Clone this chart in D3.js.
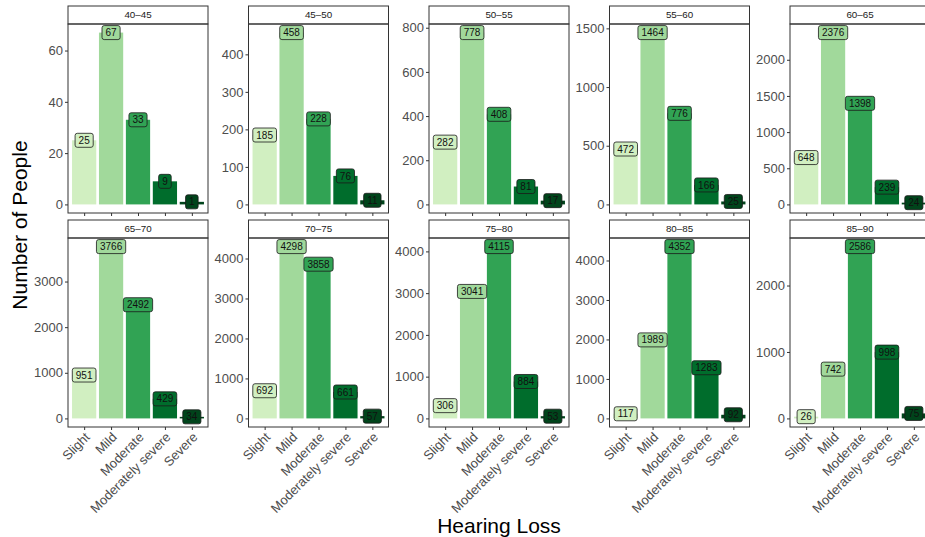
<!DOCTYPE html>
<html>
<head>
<meta charset="utf-8">
<script src="https://cdn.jsdelivr.net/npm/d3@7"></script>
<style>
  html, body { margin: 0; padding: 0; background: #fff; }
  svg { display: block; font-family: "Liberation Sans", Arial, Helvetica, sans-serif; }
</style>
</head>
<body>
<svg id="chart" width="925" height="537"></svg>
<script>
// ---------- data ----------
const categories = ["Slight", "Mild", "Moderate", "Moderately severe", "Severe"];
const categoryColors = ["#d1efc1", "#a1d99b", "#31a354", "#006d2c", "#00441b"];
const ageGroups = ["40–45", "45–50", "50–55", "55–60", "60–65", "65–70", "70–75", "75–80", "80–85", "85–90"];

const counts_40_45 = [25, 67, 33, 9, 1];
const counts_45_50 = [185, 458, 228, 76, 11];
const counts_50_55 = [282, 778, 408, 81, 17];
const counts_55_60 = [472, 1464, 776, 166, 25];
const counts_60_65 = [648, 2376, 1398, 239, 24];
const counts_65_70 = [951, 3766, 2492, 429, 34];
const counts_70_75 = [692, 4298, 3858, 661, 57];
const counts_75_80 = [306, 3041, 4115, 884, 53];
const counts_80_85 = [117, 1989, 4352, 1283, 92];
const counts_85_90 = [26, 742, 2586, 998, 75];

const ticks_40_45 = [0, 20, 40, 60];
const ticks_45_50 = [0, 100, 200, 300, 400];
const ticks_50_55 = [0, 200, 400, 600, 800];
const ticks_55_60 = [0, 500, 1000, 1500];
const ticks_60_65 = [0, 500, 1000, 1500, 2000];
const ticks_65_70 = [0, 1000, 2000, 3000];
const ticks_70_75 = [0, 1000, 2000, 3000, 4000];
const ticks_75_80 = [0, 1000, 2000, 3000, 4000];
const ticks_80_85 = [0, 1000, 2000, 3000, 4000];
const ticks_85_90 = [0, 1000, 2000];

const allCounts = [counts_40_45, counts_45_50, counts_50_55, counts_55_60, counts_60_65,
                   counts_65_70, counts_70_75, counts_75_80, counts_80_85, counts_85_90];
const allTicks = [ticks_40_45, ticks_45_50, ticks_50_55, ticks_55_60, ticks_60_65,
                  ticks_65_70, ticks_70_75, ticks_75_80, ticks_80_85, ticks_85_90];

// ---------- layout ----------
const svg = d3.select("#chart");
const panelLeft0 = 68, panelStep = 180.5, panelW = 140;
const stripH = 18;
const rowTops = [24, 238];   // panel tops (strip is above)
const panelH = 189;
const axisCol = "#333333";
const tickTextCol = "#4d4d4d";

const color = d3.scaleOrdinal().domain(categories).range(categoryColors);

ageGroups.forEach((grp, i) => {
  const col = i % 5, row = Math.floor(i / 5);
  const x0 = panelLeft0 + col * panelStep;
  const y0 = rowTops[row];
  const data = categories.map((c, k) => ({cat: c, value: allCounts[i][k]}));
  const maxV = d3.max(data, d => d.value);

  const x = d3.scalePoint().domain(categories).range([0, panelW]).padding(0.6);
  const bw = x.step() * 0.9;
  const y = d3.scaleLinear().domain([-0.05 * maxV, 1.05 * maxV]).range([panelH, 0]);

  const g = svg.append("g").attr("transform", `translate(${x0},${y0})`);

  // strip
  g.append("rect").attr("x", 0).attr("y", -stripH).attr("width", panelW).attr("height", stripH)
    .attr("fill", "#fff").attr("stroke", axisCol).attr("stroke-width", 1);
  g.append("text").attr("x", panelW / 2).attr("y", -stripH / 2).attr("dy", "0.35em")
    .attr("text-anchor", "middle").attr("font-size", 9.8).attr("fill", "#1a1a1a").text(grp);

  // bars
  g.selectAll("rect.bar").data(data).join("rect").attr("class", "bar")
    .attr("x", d => x(d.cat) - bw / 2).attr("width", bw)
    .attr("y", d => y(d.value)).attr("height", d => y(0) - y(d.value))
    .attr("fill", d => color(d.cat));

  // labels
  const lab = g.selectAll("g.lab").data(data).join("g").attr("class", "lab")
    .attr("transform", d => `translate(${x(d.cat)},${y(d.value)})`);
  lab.each(function(d) {
    const lg = d3.select(this);
    const r = lg.append("rect");
    const t = lg.append("text").attr("text-anchor", "middle").attr("dy", "0.36em")
      .attr("font-size", 10).attr("fill", "#111").text(d.value);
    const w = t.node().getComputedTextLength() + 7;
    const h = 14;
    r.attr("x", -w / 2).attr("y", -h / 2).attr("width", w).attr("height", h)
      .attr("rx", 2.2).attr("ry", 2.2)
      .attr("fill", color(d.cat)).attr("stroke", "#1a1a1a").attr("stroke-width", 0.8);
  });

  // panel border
  g.append("rect").attr("x", 0).attr("y", 0).attr("width", panelW).attr("height", panelH)
    .attr("fill", "none").attr("stroke", axisCol).attr("stroke-width", 1);

  // y axis
  const ya = g.append("g").call(d3.axisLeft(y).tickValues(allTicks[i]).tickSize(3).tickPadding(2).tickFormat(d3.format("d")));
  ya.select(".domain").remove();
  ya.selectAll(".tick line").attr("stroke", axisCol);
  ya.selectAll(".tick text").attr("font-size", 13).attr("fill", tickTextCol).attr("font-family", null);

  // x axis
  const xa = g.append("g").attr("transform", `translate(0,${panelH})`)
    .call(d3.axisBottom(x).tickSize(3).tickFormat(row === 1 ? (d => d) : () => ""));
  xa.select(".domain").remove();
  xa.selectAll(".tick line").attr("stroke", axisCol);
  xa.selectAll(".tick text").attr("font-size", 13).attr("fill", tickTextCol).attr("font-family", null)
    .attr("text-anchor", "end").attr("dy", null).attr("y", 0)
    .attr("transform", "translate(6,11) rotate(-45)");
});

// axis titles
svg.append("text").attr("transform", "translate(27,225) rotate(-90)")
  .attr("text-anchor", "middle").attr("font-size", 21).attr("fill", "#000").text("Number of People");
svg.append("text").attr("x", 499).attr("y", 533)
  .attr("text-anchor", "middle").attr("font-size", 21).attr("fill", "#000").text("Hearing Loss");
</script>
</body>
</html>
